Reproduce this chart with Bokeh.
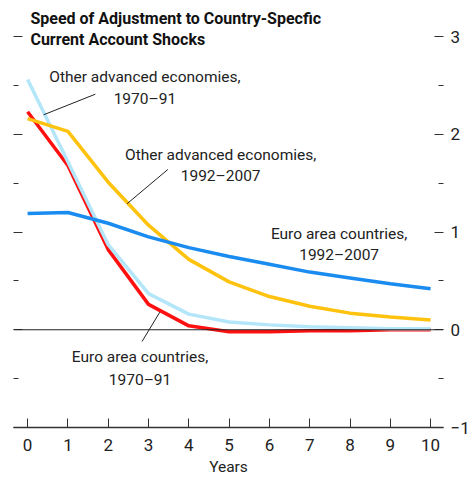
from bokeh.plotting import figure
from bokeh.models import Range1d, LinearAxis, FixedTicker, Span, Label, CustomJSTickFormatter
from bokeh.embed import file_html
from bokeh.resources import INLINE

years = list(range(11))
other_7091 = [2.56, 1.72, 0.87, 0.37, 0.16, 0.08, 0.05, 0.03, 0.02, 0.01, 0.01]
euro_7091 = [2.23, 1.68, 0.82, 0.26, 0.04, -0.02, -0.02, -0.01, -0.01, 0.0, 0.0]
other_9207 = [2.16, 2.03, 1.51, 1.07, 0.72, 0.49, 0.34, 0.24, 0.17, 0.13, 0.10]
euro_9207 = [1.19, 1.20, 1.09, 0.95, 0.84, 0.75, 0.67, 0.59, 0.53, 0.47, 0.42]
y_major = [-1, 0, 1, 2, 3]
y_minor = [-0.5, 0.5, 1.5, 2.5]

FONT = "Roboto"

p = figure(width=472, height=478, output_backend="svg", toolbar_location=None,
           x_range=Range1d(-0.35, 10.32), y_range=Range1d(-1, 3.287),
           min_border_left=13, min_border_top=8, min_border_right=27, min_border_bottom=51,
           y_axis_location=None)
p.grid.visible = False
p.outline_line_color = None

xa = p.xaxis[0]
xa.ticker = FixedTicker(ticks=years)
xa.major_tick_in = 9
xa.major_tick_out = 0
xa.minor_tick_line_color = None
xa.axis_line_color = "#333333"
xa.axis_line_width = 1.5
xa.major_tick_line_color = "#333333"
xa.major_label_text_font = FONT
xa.major_label_text_font_size = "17px"
xa.major_label_text_color = "#222222"
xa.major_label_standoff = 11
xa.axis_label = "Years"
xa.axis_label_text_font = FONT
xa.axis_label_text_font_size = "15.5px"
xa.axis_label_text_font_style = "normal"
xa.axis_label_text_color = "#222222"
xa.axis_label_standoff = 4

for loc in ("left", "right"):
    ax = LinearAxis(ticker=FixedTicker(ticks=y_major, minor_ticks=y_minor))
    ax.axis_line_color = None
    ax.major_tick_in = 9
    ax.major_tick_out = 0
    ax.minor_tick_in = 5
    ax.minor_tick_out = 0
    ax.major_tick_line_color = "#333333"
    ax.minor_tick_line_color = "#333333"
    ax.major_label_text_font = FONT
    ax.major_label_text_font_size = "17px"
    ax.major_label_text_color = "#222222"
    ax.major_label_standoff = 7
    if loc == "left":
        ax.formatter = CustomJSTickFormatter(code="return ''")
        ax.major_label_standoff = 0
    p.add_layout(ax, loc)

p.add_layout(Span(location=0, dimension="width", line_color="#222222", line_width=1))

p.line(years, euro_7091, line_color="#ff1010", line_width=3.5)
p.line(years, other_7091, line_color="#b3e6f9", line_width=3.5)
p.line(years, other_9207, line_color="#ffc20e", line_width=3.5)
p.line(years, euro_9207, line_color="#1a8cf0", line_width=3.5)

# leader lines
p.segment(x0=[1.68, 3.48, 3.28], y0=[2.41, 1.64, 0.18],
          x1=[0.40, 2.47, 2.84], y1=[2.20, 1.29, -0.12],
          line_color="#222222", line_width=1)

def lab(x, y, t, **kw):
    p.add_layout(Label(x=x, y=y, text=t, text_font=FONT, text_font_size="15.5px",
                       text_color="#222222", text_align="center",
                       text_baseline="middle", **kw))

lab(2.91, 2.59, "Other advanced economies,")
lab(2.91, 2.36, "1970–91")
lab(4.79, 1.79, "Other advanced economies,")
lab(4.79, 1.57, "1992–2007")
lab(7.73, 0.98, "Euro area countries,")
lab(7.73, 0.76, "1992–2007")
lab(2.79, -0.28, "Euro area countries,")
lab(2.79, -0.51, "1970–91")

for yy, t in [(3.18, "Speed of Adjustment to Country-Specfic"), (2.97, "Current Account Shocks")]:
    p.add_layout(Label(x=0.07, y=yy, text=t, text_font=FONT, text_font_size="16px",
                       text_font_style="bold", text_color="#111111",
                       text_align="left", text_baseline="middle"))

open("out.html", "w").write(file_html(p, INLINE))
